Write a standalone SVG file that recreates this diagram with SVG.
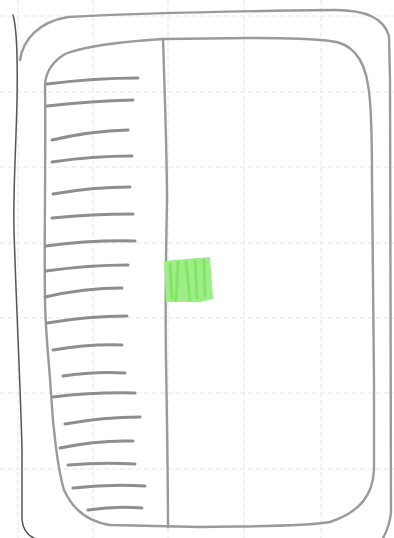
<svg xmlns="http://www.w3.org/2000/svg" width="394" height="538" viewBox="0 0 394 538">
<style>
.grid{stroke:#e6e6e6;stroke-width:1;stroke-dasharray:5 3;fill:none}
.pen{fill:none;stroke:#9a9a9a;stroke-width:2.4;stroke-linecap:round;stroke-linejoin:round}
.dark{fill:none;stroke:#555;stroke-width:1.5;stroke-linecap:round}
.item{fill:none;stroke:#8e8e8e;stroke-width:3;stroke-linecap:round}
</style>
<rect width="394" height="538" fill="#fff"/>
<g id="grid">
<path class="grid" d="M18 0V538M93 0V538M168 0V538M244 0V538M321 0V538"/>
<path class="grid" d="M0 16H394M0 92H394M0 167H394M0 243H394M0 318H394M0 393H394M0 469H394"/>
</g>
<g id="device">
<path class="dark" d="M13 15 C16 25,18 45,17 100 C16 150,13 190,14 230 C16 300,21 400,22 450 L22 520 C23 530,28 536,36 539"/>
<path class="pen" d="M20 60 C23 40,38 22,68 17 C140 13,250 11,335 10 C365 10,384 18,389 36 L390 80 C391 200,390 400,391 512 C390 525,386 533,382 540"/>
</g>
<g id="screen">
<path class="pen" d="M45 84 C46 72,52 62,65 54 C85 46,115 42,163 39 L250 38 C290 38,315 39,330 41 C352 43,364 58,368 85 C371 100,372 130,372 180 C373 260,374 330,374 380 L374 470 C373 495,360 512,330 522 C300 527,250 526,200 527 L110 525 C90 522,74 512,64 490 C58 470,53 430,51 393 C49 360,45 330,45 297 C44 250,46 150,45 84 Z"/>
</g>
<g id="divider">
<path class="pen" d="M163 39 C165 100,167 160,167 200 C166 250,165 300,166 360 C167 420,168 480,168 527"/>
</g>
<g id="sidebar-list">
<path class="item" d="M47 84 Q95 78 138 78"/>
<path class="item" d="M47 106 Q92 101 133 100"/>
<path class="item" d="M52 140 Q90 131 128 130"/>
<path class="item" d="M52 162 Q92 156 132 156"/>
<path class="item" d="M53 194 Q92 187 130 187"/>
<path class="item" d="M52 218 Q92 214 133 214"/>
<path class="item" d="M46 246 Q90 240 135 241"/>
<path class="item" d="M46 271 Q88 265 128 265"/>
<path class="item" d="M45 297 Q84 288 122 288"/>
<path class="item" d="M47 323 Q88 316 127 316"/>
<path class="item" d="M53 350 Q88 344 122 345"/>
<path class="item" d="M63 376 Q95 371 125 373"/>
<path class="item" d="M53 397 Q95 392 135 393"/>
<path class="item" d="M65 424 Q103 417 140 417"/>
<path class="item" d="M60 448 Q97 440 133 441"/>
<path class="item" d="M68 465 Q102 462 135 464"/>
<path class="item" d="M73 488 Q110 484 145 486"/>
<path class="item" d="M88 510 Q115 506 142 508"/>
</g>
<g id="green-block">
<path d="M164 261 L210 257 L213 299 L200 302 L166 302 Z" fill="#9cef84"/>
<path d="M170 264 L172 298 M178 262 L176 300 M186 262 L190 300 M195 260 L197 298 M204 260 L205 296" stroke="#84e468" stroke-width="3" fill="none" stroke-linecap="round"/>
</g>
</svg>
